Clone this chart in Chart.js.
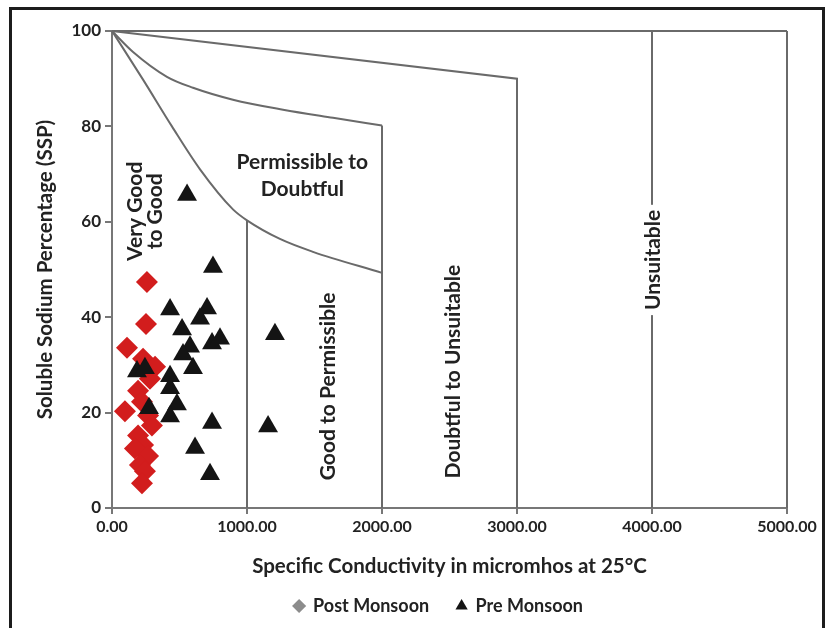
<!DOCTYPE html>
<html>
<head>
<meta charset="utf-8">
<script src="https://cdn.jsdelivr.net/npm/chart.js@4/dist/chart.umd.min.js"></script>
<style>
  html, body { margin: 0; padding: 0; background: #fff; }
  #wrap { position: relative; width: 828px; height: 628px; overflow: hidden; }
  #c { position: absolute; left: 0; top: 0; }
  #frame { position: absolute; left: 9px; top: 7px; width: 810px; height: 660px;
           border: 3px solid #1c1c1c; border-bottom: none; pointer-events: none; }
</style>
</head>
<body>
<div id="wrap">
  <canvas id="c" width="828" height="628"></canvas>
  <div id="frame"></div>
</div>
<script>
// ---- Data ----
const seriesNames = ['Post Monsoon', 'Pre Monsoon'];

const postEC  = [259, 252, 111, 230, 319, 281, 193, 222, 96, 267, 296, 193, 230, 170, 267, 207, 244, 222];
const postSSP = [47.4, 38.6, 33.6, 31.3, 29.6, 27.1, 24.6, 22.3, 20.3, 19.4, 17.3, 15.2, 13.2, 12.5, 10.9, 9.0, 7.7, 5.2];

const preEC  = [556, 748, 1207, 1156, 430, 704, 652, 519, 578, 741, 800, 526, 600, 185, 244, 430, 430, 481, 274, 430, 741, 615, 726];
const preSSP = [65.6, 50.5, 36.4, 17.1, 41.6, 41.8, 39.7, 37.4, 33.8, 34.5, 35.5, 32.2, 29.3, 28.6, 29.3, 27.6, 25.1, 21.7, 20.9, 19.2, 17.8, 12.6, 7.1];

// classification boundary lines (Wilcox-type diagram)
const upperLineEC  = [0, 3000, 3000];
const upperLineSSP = [100, 90, 0];
const midCurveEC   = [0, 156, 407, 600, 896, 1267, 1637, 2000];
const midCurveSSP  = [100, 95.6, 90.4, 88.1, 85.6, 83.5, 81.8, 80.2];
const lowCurveEC   = [0, 230, 444, 652, 896, 1000, 1244, 1489, 2000];
const lowCurveSSP  = [100, 89.8, 80, 71, 62.6, 60.3, 56.4, 53.7, 49.3];
const verticalEC   = [1000, 2000, 4000, 5000];
const verticalTop  = [60.3, 80.2, 100, 100];
const frameTopEC   = [0, 5000];
const frameTopSSP  = [100, 100];

const xTickLabels = ['0.00', '1000.00', '2000.00', '3000.00', '4000.00', '5000.00'];
const yTickLabels = ['0', '20', '40', '60', '80', '100'];

const regionLabels = [
  { text: 'Very Good', x: 163, y: 62.2, rot: true },
  { text: 'to Good', x: 312, y: 62.2, rot: true },
  { text: 'Permissible to', x: 1410, y: 72.7, rot: false },
  { text: 'Doubtful', x: 1410, y: 67.0, rot: false },
  { text: 'Good to Permissible', x: 1593, y: 25.5, rot: true },
  { text: 'Doubtful to Unsuitable', x: 2519, y: 28.6, rot: true },
  { text: 'Unsuitable', x: 4000, y: 52.0, rot: true, knockout: true }
];

// ---- helpers ----
const pts = (xs, ys) => xs.map((x, i) => ({ x: x, y: ys[i] }));
const FONT = 'Lato, "Open Sans", sans-serif';
const LINE = '#6a6a6a';

function lineSet(data, smooth) {
  return {
    label: '_line', data: data, showLine: true, pointRadius: 0, pointHoverRadius: 0,
    borderColor: LINE, borderWidth: 2, fill: false, order: 10, clip: false,
    tension: 0, cubicInterpolationMode: smooth ? 'monotone' : 'default'
  };
}

const datasets = [
  { label: seriesNames[0], data: pts(postEC, postSSP), pointStyle: 'rectRot', pointRadius: 11,
    backgroundColor: '#d21d1d', borderColor: '#d21d1d', borderWidth: 0, order: 1, clip: false },
  { label: seriesNames[1], data: pts(preEC, preSSP), pointStyle: 'triangle', pointRadius: 11.5,
    backgroundColor: '#141414', borderColor: '#141414', borderWidth: 0, order: 0, clip: false },
  lineSet(pts(upperLineEC, upperLineSSP), false),
  lineSet(pts(midCurveEC, midCurveSSP), true),
  lineSet(pts(lowCurveEC, lowCurveSSP), true),
  lineSet(pts(frameTopEC, frameTopSSP), false)
];
verticalEC.forEach((x, i) => datasets.push(lineSet([{ x: x, y: 0 }, { x: x, y: verticalTop[i] }], false)));

const regionLabelPlugin = {
  id: 'regionLabels',
  afterDatasetsDraw(chart) {
    const { ctx, scales: { x, y } } = chart;
    ctx.save();
    ctx.font = 'bold 21px ' + FONT;
    ctx.fillStyle = '#222';
    ctx.textAlign = 'center';
    ctx.textBaseline = 'middle';
    regionLabels.forEach(l => {
      const px = x.getPixelForValue(l.x), py = y.getPixelForValue(l.y);
      ctx.save();
      ctx.translate(px, py);
      if (l.rot) ctx.rotate(-Math.PI / 2);
      if (l.knockout) {
        const w = ctx.measureText(l.text).width;
        ctx.fillStyle = '#fff';
        ctx.fillRect(-w / 2 - 5, -9, w + 10, 18);
        ctx.fillStyle = '#222';
      }
      ctx.fillText(l.text, 0, 1);
      ctx.restore();
    });
    ctx.restore();
  }
};

new Chart(document.getElementById('c'), {
  type: 'scatter',
  data: { datasets: datasets },
  plugins: [regionLabelPlugin],
  options: {
    responsive: false,
    devicePixelRatio: 1,
    animation: false,
    events: [],
    layout: { padding: { left: 0, right: 41, top: 31, bottom: 3 } },
    scales: {
      x: {
        type: 'linear', min: 0, max: 5000,
        afterFit: s => { s.height = 79; },
        border: { color: '#777', width: 2 },
        grid: { display: true, drawOnChartArea: false, drawTicks: true, tickLength: 6, color: '#777', lineWidth: 2 },
        ticks: { stepSize: 1000, padding: 3, color: '#222', font: { family: FONT, size: 16, weight: 'bold' },
                 callback: (v) => xTickLabels[Math.round(v / 1000)] },
        title: { display: true, text: 'Specific Conductivity in micromhos at 25°C', color: '#222',
                 font: { family: FONT, size: 20.5, weight: 'bold' }, padding: { top: 0, bottom: 8 } }
      },
      y: {
        type: 'linear', min: 0, max: 100,
        afterFit: s => { s.width = 112; },
        border: { color: '#777', width: 2 },
        grid: { display: true, drawOnChartArea: false, drawTicks: true, tickLength: 7, color: '#777', lineWidth: 2 },
        ticks: { stepSize: 20, padding: 4, color: '#222', font: { family: FONT, size: 17, weight: 'bold' },
                 callback: (v) => yTickLabels[Math.round(v / 20)] },
        title: { display: true, text: 'Soluble Sodium Percentage (SSP)', color: '#222',
                 font: { family: FONT, size: 20.5, weight: 'bold' }, padding: { top: 33, bottom: 0 } }
      }
    },
    plugins: {
      tooltip: { enabled: false },
      legend: {
        position: 'bottom', fullSize: false,
        labels: {
          usePointStyle: true, boxWidth: 10, boxHeight: 10, padding: 10,
          color: '#222', font: { family: FONT, size: 18, weight: 'bold' },
          filter: (item) => item.datasetIndex < 2,
          generateLabels: (chart) => chart.data.datasets.slice(0, 2).map((d, i) => ({
            text: i === 0 ? d.label + '    ' : d.label + '     ',
            fillStyle: i === 0 ? '#8c8c8c' : '#141414',
            strokeStyle: i === 0 ? '#8c8c8c' : '#141414',
            lineWidth: 0, pointStyle: d.pointStyle, datasetIndex: i, hidden: false,
            fontColor: '#222'
          }))
        }
      }
    }
  }
});
</script>
</body>
</html>
